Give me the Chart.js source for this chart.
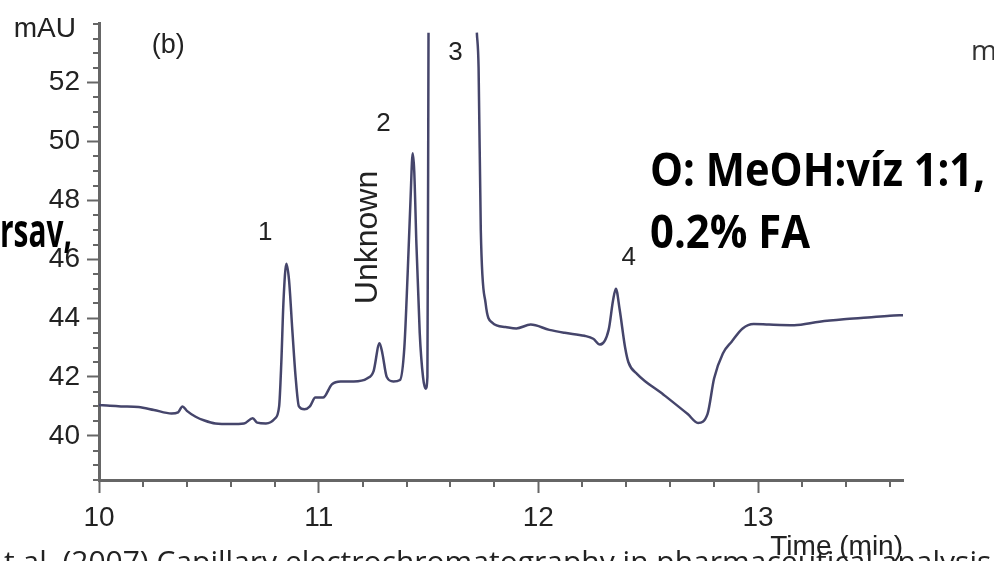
<!DOCTYPE html>
<html>
<head>
<meta charset="utf-8">
<script src="https://cdn.jsdelivr.net/npm/chart.js@4.4.0/dist/chart.umd.min.js"></script>
<style>
    body { margin: 0; background: #fff; }
    #wrap { width: 994px; height: 561px; position: relative; }
</style>
</head>
<body>
<div id="wrap"><canvas id="chromChart" width="994" height="561"></canvas></div>
<script>
// Chromatogram (b): time in min, absorbance in mAU
const times = [10.00, 10.05, 10.10, 10.18, 10.25, 10.33, 10.36, 10.38, 10.40, 10.44,
    10.48, 10.53, 10.60, 10.66, 10.70, 10.72, 10.76, 10.80, 10.82, 10.83,
    10.84, 10.853, 10.865, 10.88, 10.895, 10.91, 10.935, 10.96, 10.985, 11.02,
    11.06, 11.10, 11.16, 11.22, 11.25, 11.277, 11.29, 11.31, 11.34, 11.37,
    11.39, 11.405, 11.418, 11.428, 11.435, 11.445, 11.46, 11.475, 11.487, 11.495,
    11.50, 11.60, 11.72, 11.728, 11.738, 11.76, 11.79, 11.85, 11.90, 11.965,
    12.05, 12.12, 12.21, 12.25, 12.28, 12.32, 12.34, 12.353, 12.37, 12.395,
    12.41, 12.45, 12.57, 12.68, 12.727, 12.77, 12.80, 12.84, 12.88, 12.93,
    12.98, 13.05, 13.165, 13.28, 13.39, 13.50, 13.60, 13.666];
const signal = [41.05, 41.02, 41.00, 40.98, 40.88, 40.76, 40.80, 41.00, 40.85, 40.65,
    40.52, 40.42, 40.40, 40.42, 40.60, 40.45, 40.42, 40.58, 41.00, 42.5,
    44.6, 45.85, 45.3, 43.6, 42.0, 41.0, 40.9, 41.0, 41.3, 41.3,
    41.75, 41.85, 41.85, 41.95, 42.2, 43.15, 42.8, 42.0, 41.85, 41.9,
    43.0, 45.5, 48.0, 49.6, 49.0, 46.5, 43.5, 42.0, 41.6, 42.0,
    53.7, null, 53.7, 52.5, 47.0, 44.5, 43.85, 43.7, 43.65, 43.78,
    43.6, 43.5, 43.4, 43.3, 43.1, 43.6, 44.6, 45.0, 44.3, 43.0,
    42.5, 42.1, 41.4, 40.74, 40.44, 40.74, 41.95, 42.8, 43.2, 43.65,
    43.8, 43.78, 43.76, 43.88, 43.96, 44.02, 44.08, 44.1];

const xTickValues = [10, 11, 12, 13];
const yTickValues = [40, 42, 44, 46, 48, 50, 52];

// Peak labels (placed in data coordinates)
const peakLabels = ['1', '2', '3', '4'];
const peakLabelTimes = [10.757, 11.295, 11.623, 12.412];
const peakLabelLevels = [46.9, 50.6, 53.0, 46.05];

const lineColor = '#45456b';
const axisColor = '#666666';
const tickFont = { family: '"Liberation Sans", Arial, sans-serif', size: 28 };

// Minor ticks + all the free text around the plot
const extrasPlugin = {
    id: 'extras',
    afterDraw(chart) {
        const ctx = chart.ctx;
        const x = chart.scales.x;
        const y = chart.scales.y;
        const area = chart.chartArea;

        ctx.save();
        // minor ticks
        ctx.strokeStyle = axisColor;
        ctx.lineWidth = 2;
        ctx.beginPath();
        for (let v = 38.5; v <= 54.001; v += 0.5) {
            if (yTickValues.includes(Math.round(v * 10) / 10)) continue;
            const py = Math.round(y.getPixelForValue(v));
            ctx.moveTo(area.left - 6, py);
            ctx.lineTo(area.left, py);
        }
        for (let t = 10; t <= 13.66; t += 0.2) {
            if (xTickValues.includes(Math.round(t * 10) / 10)) continue;
            const px = Math.round(x.getPixelForValue(t));
            ctx.moveTo(px, area.bottom);
            ctx.lineTo(px, area.bottom + 7);
        }
        ctx.stroke();

        // axis unit and panel tag
        ctx.fillStyle = '#222';
        ctx.font = '28px "Liberation Sans", Arial, sans-serif';
        ctx.textAlign = 'right';
        ctx.textBaseline = 'middle';
        ctx.fillText('mAU', 76, 29);
        ctx.textAlign = 'center';
        ctx.font = '27px "Liberation Sans", Arial, sans-serif';
        ctx.fillText('(b)', x.getPixelForValue(10.315), y.getPixelForValue(53.25));

        // peak numbers
        ctx.font = '26px "Liberation Sans", Arial, sans-serif';
        for (let i = 0; i < peakLabels.length; i++) {
            ctx.fillText(peakLabels[i], x.getPixelForValue(peakLabelTimes[i]), y.getPixelForValue(peakLabelLevels[i]));
        }

        // rotated "Unknown"
        ctx.save();
        ctx.translate(x.getPixelForValue(11.227), y.getPixelForValue(46.74));
        ctx.rotate(-Math.PI / 2);
        ctx.font = '32px "Liberation Sans", Arial, sans-serif';
        ctx.fillText('Unknown', 0, 0);
        ctx.restore();

        // slide text over the figure
        ctx.fillStyle = '#000';
        ctx.textBaseline = 'alphabetic';
        ctx.textAlign = 'left';
        ctx.font = 'bold 46px "Open Sans", sans-serif';
        ctx.fillText('O: MeOH:víz 1:1,', 650, 186, 335);
        ctx.fillText('0.2% FA', 650, 248, 160);
        ctx.fillText('rsav,', 0, 247, 72);

        ctx.fillStyle = '#333';
        ctx.font = '28px "Open Sans", sans-serif';
        ctx.fillText('m', 971, 60);
        ctx.fillStyle = '#222';
        ctx.font = '30px "Open Sans", sans-serif';
        ctx.fillText('t al. (2007) Capillary electrochromatography in pharmaceutical analysis', 4, 572, 990);
        ctx.restore();
    }
};

const createChromChart = () => {
    const ctx = document.getElementById('chromChart').getContext('2d');
    new Chart(ctx, {
        type: 'line',
        data: {
            datasets: [{
                data: times.map((t, i) => ({ x: t, y: signal[i] })),
                borderColor: lineColor,
                borderWidth: 2.5,
                pointRadius: 0,
                cubicInterpolationMode: 'monotone',
                spanGaps: false
            }]
        },
        options: {
            responsive: false,
            animation: false,
            layout: { padding: { top: 16, right: 91, left: 0, bottom: 0 } },
            plugins: {
                legend: { display: false },
                tooltip: { enabled: false }
            },
            scales: {
                x: {
                    type: 'linear',
                    min: 10,
                    max: 13.66,
                    afterFit: s => { s.height = 81; },
                    afterBuildTicks: s => { s.ticks = xTickValues.map(v => ({ value: v })); },
                    ticks: { color: '#222', font: tickFont, padding: 8, maxRotation: 0 },
                    grid: { drawOnChartArea: false, tickLength: 13, tickColor: axisColor, tickWidth: 2 },
                    border: { color: axisColor, width: 3 },
                    title: {
                        display: true,
                        text: 'Time (min)',
                        align: 'end',
                        color: '#222',
                        font: { family: '"Liberation Sans", Arial, sans-serif', size: 28, lineHeight: 1.0 },
                        padding: 0
                    }
                },
                y: {
                    min: 38.5,
                    max: 54,
                    afterFit: s => { s.width = 99; },
                    afterBuildTicks: s => { s.ticks = yTickValues.map(v => ({ value: v })); },
                    ticks: { color: '#222', font: tickFont, padding: 7 },
                    grid: { drawOnChartArea: false, tickLength: 12, tickColor: axisColor, tickWidth: 2 },
                    border: { color: axisColor, width: 3 }
                }
            }
        },
        plugins: [extrasPlugin]
    });
}

createChromChart();
</script>
</body>
</html>
